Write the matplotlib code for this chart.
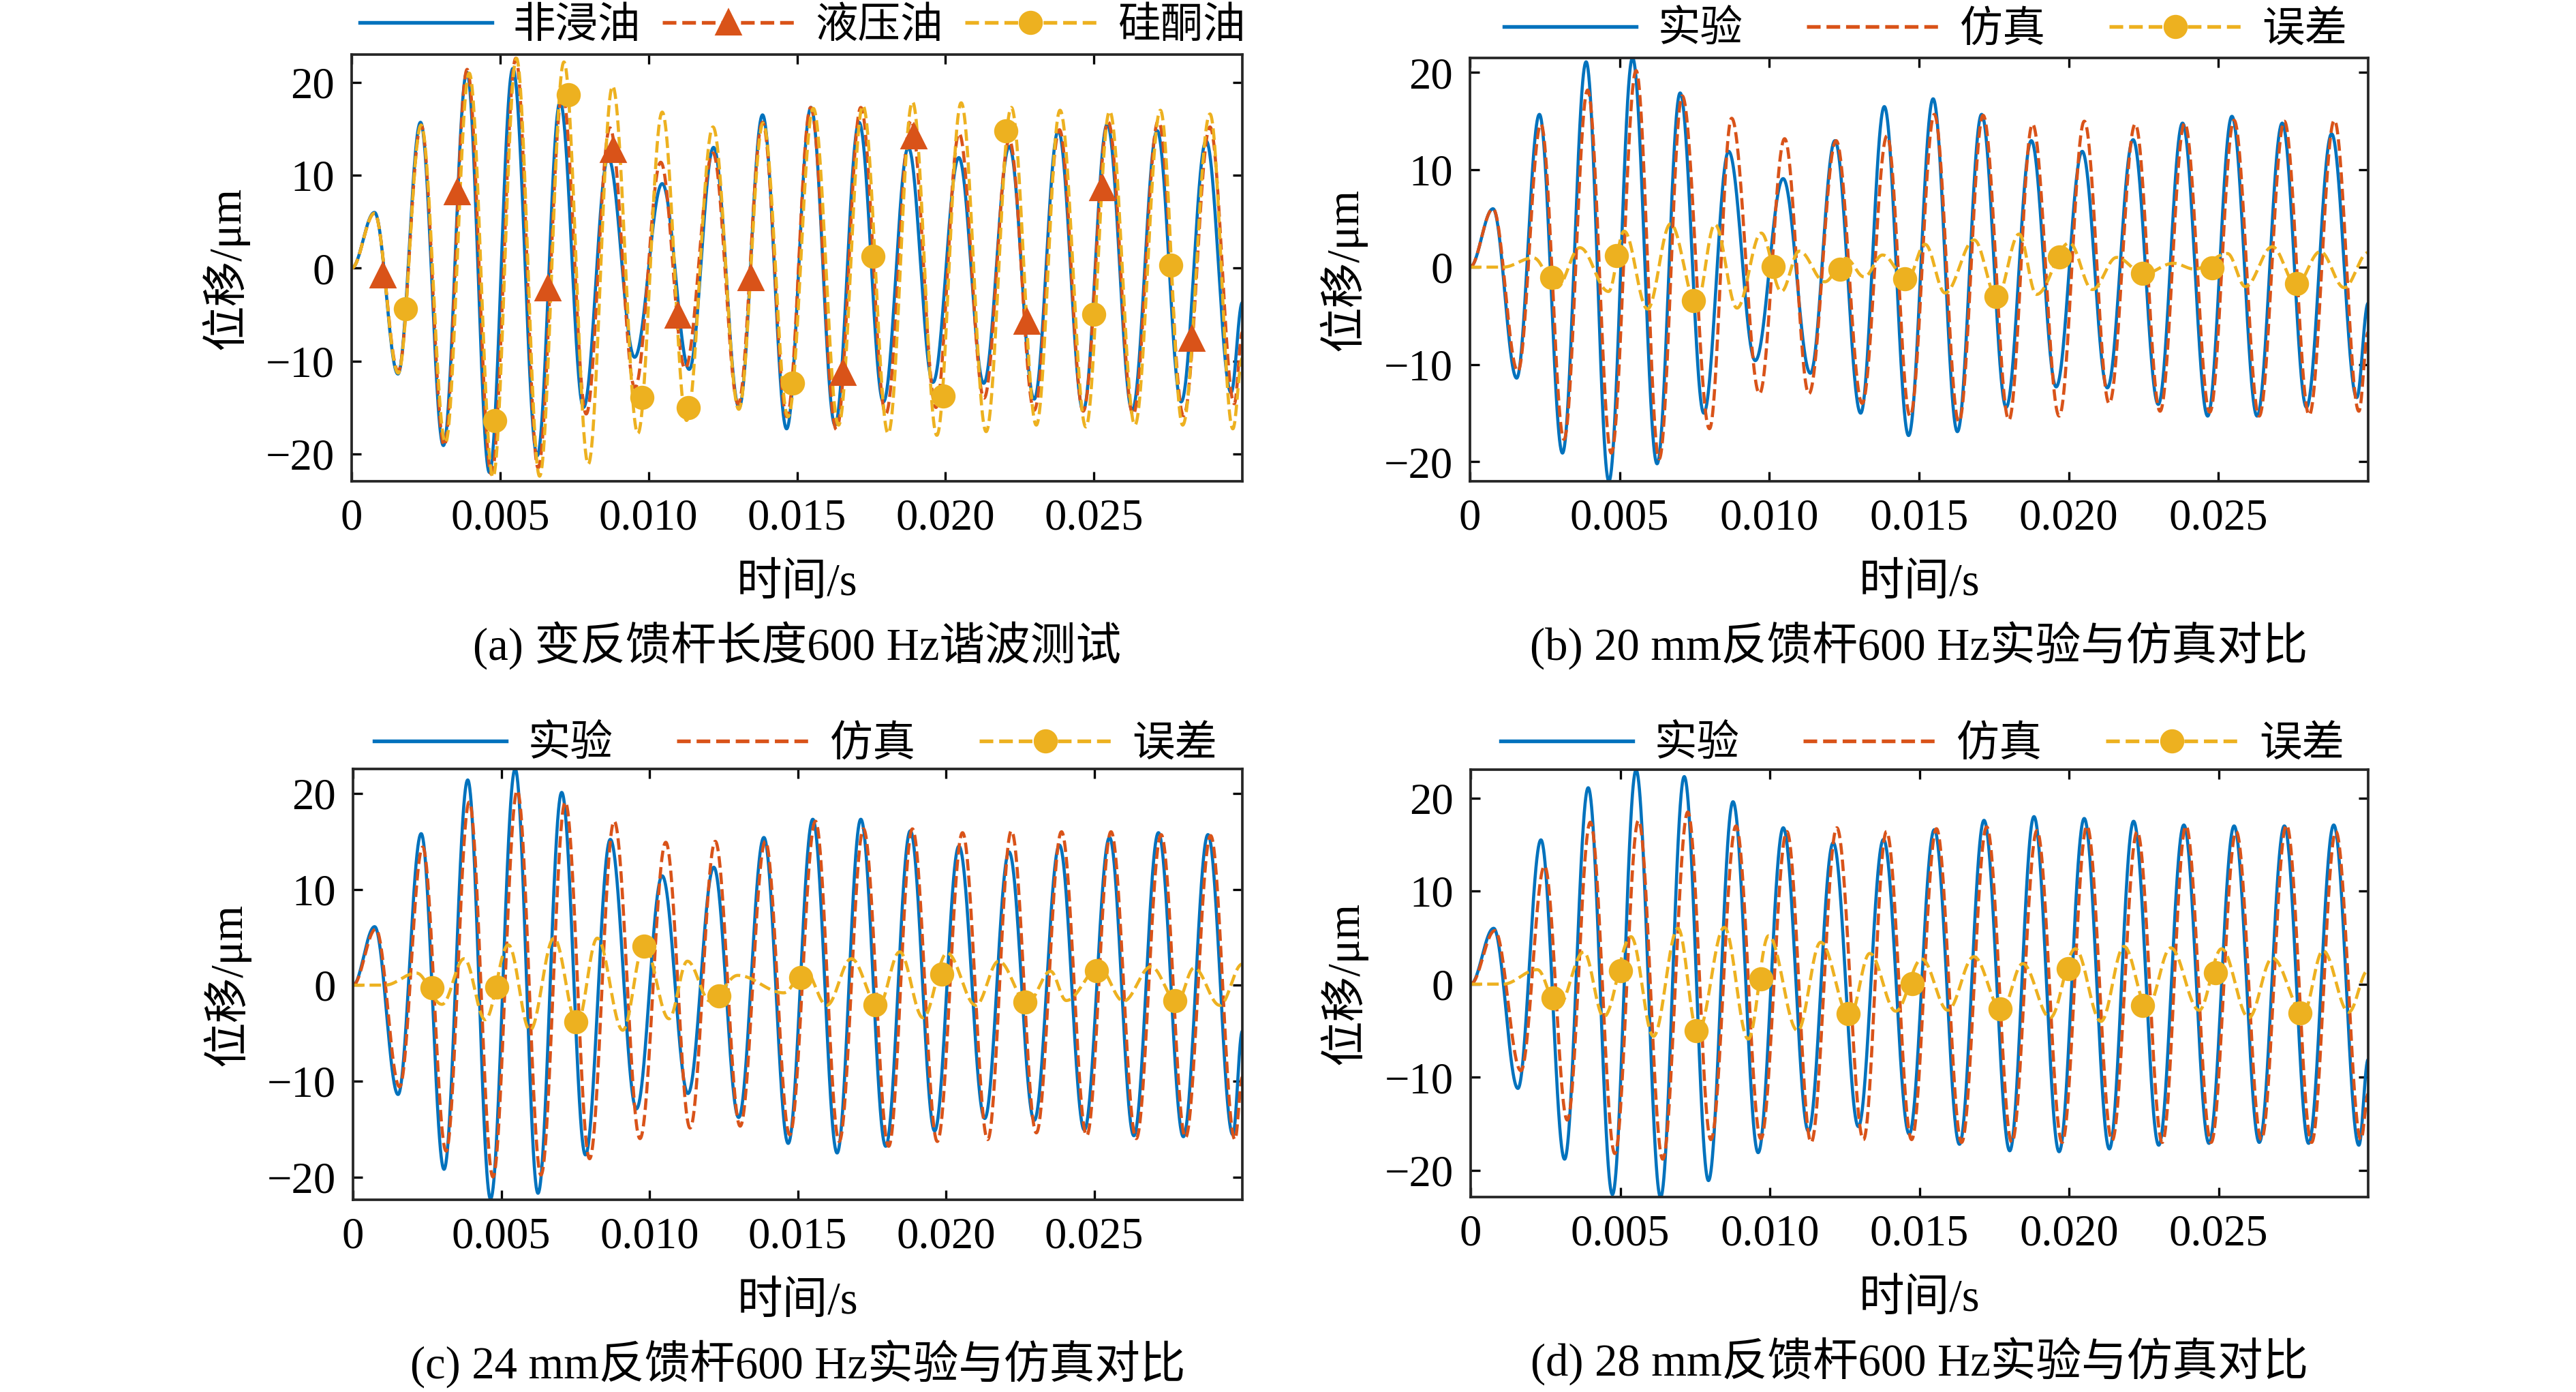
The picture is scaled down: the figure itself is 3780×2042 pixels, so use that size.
import numpy as np
import matplotlib.pyplot as plt
from matplotlib.lines import Line2D

plt.rcParams['font.family'] = ['Liberation Serif', 'Noto Sans CJK SC']
plt.rcParams['axes.unicode_minus'] = True

W, H = 3780, 2042
BLUE, ORANGE, YELLOW = '#0072BD', '#D95319', '#EDB120'

# ---- data: turning points (time in s, displacement in um) ----
# 20 mm experiment (also the 非浸油 curve of panel a)
t_exp20 = [0, 0.00077, 0.00156, 0.00232, 0.00309, 0.00388, 0.00464, 0.00543, 0.00625, 0.00702,
           0.00781, 0.00864, 0.00953, 0.01046, 0.01137, 0.01219, 0.01305, 0.01384, 0.01465, 0.01547,
           0.01628, 0.01709, 0.01791, 0.01875, 0.01958, 0.02045, 0.02129, 0.02215, 0.02299, 0.0238,
           0.02464, 0.02545, 0.02629, 0.02713, 0.02794, 0.02878, 0.02962, 0.03]
v_exp20 = [0, 6.0, -11.4, 15.7, -19.1, 21.1, -22.0, 21.5, -20.2, 17.9,
           -15.0, 11.9, -9.6, 9.1, -10.9, 13.0, -15.0, 16.5, -17.3, 17.3,
           -16.9, 15.7, -14.4, 13.0, -12.3, 11.9, -12.4, 13.1, -14.1, 14.8,
           -15.3, 15.5, -15.3, 14.8, -14.4, 13.7, -13.4, -3.7]

# panel a: 液压油
t_hyd = [0, 0.00077, 0.00157, 0.00234, 0.00312, 0.00389, 0.00471, 0.00553, 0.00628, 0.0071,
         0.0079, 0.0087, 0.00954, 0.01041, 0.01123, 0.01217, 0.01302, 0.01384, 0.01466, 0.01546,
         0.01633, 0.01715, 0.01799, 0.01884, 0.01968, 0.02046, 0.0213, 0.02215, 0.02299, 0.02384,
         0.02464, 0.02548, 0.02632, 0.02717, 0.02802, 0.02891, 0.02973, 0.03]
v_hyd = [0, 5.9, -11.1, 15.4, -19.1, 21.4, -22.2, 22.6, -21.5, 18.7,
         -15.7, 15.1, -12.9, 11.4, -10.8, 12.4, -14.6, 15.7, -16.0, 17.3,
         -17.4, 17.3, -15.7, 15.9, -15.0, 14.5, -14.0, 13.8, -15.3, 14.9,
         -15.4, 15.75, -15.8, 15.9, -15.9, 15.2, -14.6, -6.9]
mk_t_hyd = [0.00106, 0.00355, 0.00662, 0.00882, 0.01099, 0.01345, 0.01655, 0.01894, 0.02275, 0.02529, 0.02831]
mk_v_hyd = [-0.75, 8.2, -2.2, 12.7, -5.1, -1.1, -11.3, 14.2, -5.8, 8.6, -7.6]

# panel a: 硅酮油
t_sil = [0, 0.00077, 0.00157, 0.00234, 0.00316, 0.00396, 0.00476, 0.00555, 0.00633, 0.00715,
         0.00797, 0.00879, 0.00964, 0.01046, 0.01128, 0.01217, 0.01304, 0.01386, 0.0147, 0.01555,
         0.0164, 0.01722, 0.01807, 0.01889, 0.01971, 0.02053, 0.02137, 0.02222, 0.02306, 0.02386,
         0.02473, 0.02553, 0.02638, 0.02724, 0.02799, 0.02891, 0.02968, 0.03]
v_sil = [0, 5.9, -11.3, 15.4, -18.8, 21.0, -22.5, 22.6, -22.4, 22.2,
         -21.1, 19.6, -17.8, 16.8, -16.4, 15.2, -15.2, 15.6, -16.0, 17.2,
         -16.9, 17.5, -17.8, 17.9, -18.0, 17.8, -17.6, 17.3, -16.9, 17.0,
         -17.1, 16.9, -16.9, 17.0, -16.9, 16.6, -17.3, -9.7]
mk_t_sil = [0.00181, 0.00483, 0.0073, 0.00978, 0.01133, 0.01486, 0.01756, 0.01993, 0.02203, 0.025, 0.02758]
mk_v_sil = [-4.4, -16.4, 18.7, -13.9, -15.0, -12.4, 1.25, -13.8, 14.8, -5.0, 0.3]

# panel b: 20 mm simulation and error
t_sim20 = [0, 0.00077, 0.0016, 0.00237, 0.00314, 0.00393, 0.00472, 0.00555, 0.00632, 0.00709,
           0.008, 0.00874, 0.00967, 0.01051, 0.01132, 0.01223, 0.0131, 0.01393, 0.0147, 0.01551,
           0.01633, 0.01714, 0.018, 0.01879, 0.01968, 0.02052, 0.02135, 0.02222, 0.02305, 0.02387,
           0.02471, 0.02552, 0.02636, 0.0272, 0.02803, 0.02887, 0.02969, 0.03]
v_sim20 = [0, 6.0, -10.7, 14.7, -17.7, 18.2, -19.1, 20.2, -19.7, 17.6,
           -16.6, 15.3, -13.0, 13.2, -13.0, 13.0, -14.0, 13.5, -15.3, 15.7,
           -15.9, 15.6, -15.7, 14.7, -15.3, 15.0, -14.0, 14.7, -14.8, 14.8,
           -14.9, 15.1, -15.3, 15.0, -15.2, 15.1, -14.8, -6.7]
t_err20 = [0, 0.0011, 0.00212, 0.0029, 0.00367, 0.00463, 0.00515, 0.00593, 0.0067, 0.00757,
           0.00818, 0.00892, 0.00973, 0.0104, 0.011, 0.01185, 0.01255, 0.01317, 0.01378, 0.0146,
           0.0152, 0.01587, 0.01684, 0.0176, 0.01834, 0.01892, 0.02002, 0.02079, 0.0216, 0.0225,
           0.0235, 0.0242, 0.0253, 0.0259, 0.0268, 0.0276, 0.0284, 0.0292, 0.03]
v_err20 = [0, 0, 0.96, -2.1, 2.0, -2.5, 3.7, -4.3, 4.45, -3.8,
           4.4, -4.2, 3.5, -2.5, 1.65, -1.5, 0.9, -1.0, 1.25, -1.3,
           2.35, -2.65, 2.8, -3.1, 3.4, -2.8, 2.5, -2.3, 1.0, -0.7,
           0.4, -0.2, 1.4, -2.0, 2.1, -1.8, 1.6, -2.1, 1.5]
mk_t_err20 = [0.00274, 0.0049, 0.00747, 0.01012, 0.01236, 0.01452, 0.01757, 0.01969, 0.02247, 0.02479, 0.02761]
mk_v_err20 = [-1.07, 1.19, -3.47, 0.09, -0.21, -1.19, -3.0, 1.03, -0.63, -0.09, -1.68]

# panel c: 24 mm
t_exp24 = [0, 0.00073, 0.00152, 0.0023, 0.00307, 0.00387, 0.00464, 0.00547, 0.00624, 0.00704,
           0.00784, 0.00868, 0.00956, 0.01043, 0.0113, 0.01217, 0.01301, 0.01386, 0.01468, 0.01551,
           0.01633, 0.01713, 0.01797, 0.0188, 0.01962, 0.02044, 0.02131, 0.02213, 0.02298, 0.02383,
           0.02467, 0.02552, 0.02634, 0.02717, 0.02801, 0.02884, 0.02968, 0.03]
v_exp24 = [0, 6.1, -11.4, 15.8, -19.2, 21.4, -22.3, 22.55, -21.7, 20.1,
           -17.7, 15.2, -12.9, 11.4, -11.3, 12.3, -13.8, 15.4, -16.5, 17.3,
           -17.5, 17.3, -16.8, 16.1, -15.2, 14.5, -13.9, 13.9, -14.1, 14.6,
           -15.1, 15.4, -15.7, 15.9, -15.8, 15.7, -15.6, -4.8]
t_sim24 = [0, 0.00077, 0.00157, 0.00235, 0.00314, 0.00392, 0.00472, 0.00554, 0.00634, 0.00716,
           0.00798, 0.00881, 0.00968, 0.01055, 0.01137, 0.01222, 0.01306, 0.01391, 0.01473, 0.0156,
           0.0164, 0.01722, 0.01807, 0.01887, 0.01971, 0.02056, 0.02141, 0.02221, 0.02305, 0.0239,
           0.02475, 0.02557, 0.02642, 0.02726, 0.02808, 0.02893, 0.02975, 0.03]
v_sim24 = [0, 5.85, -10.6, 14.4, -17.3, 19.1, -20.0, 20.3, -19.8, 19.1,
           -18.1, 17.1, -16.0, 14.9, -14.9, 15.0, -14.7, 15.0, -15.6, 17.1,
           -16.3, 16.3, -16.8, 16.3, -16.3, 15.9, -16.1, 16.1, -15.4, 16.0,
           -15.7, 16.0, -16.0, 15.7, -15.9, 15.6, -16.1, -9.6]
t_err24 = [0, 0.00107, 0.00214, 0.003, 0.00375, 0.00446, 0.00524, 0.00597, 0.00678, 0.00756,
           0.00824, 0.0091, 0.00982, 0.01066, 0.01128, 0.01205, 0.01298, 0.01453, 0.01525, 0.01598,
           0.01681, 0.01772, 0.01844, 0.01923, 0.02004, 0.02101, 0.02178, 0.02275, 0.02353, 0.02406,
           0.02517, 0.02599, 0.02692, 0.0278, 0.02837, 0.02924, 0.03]
v_err24 = [0, 0, 1.26, -2.0, 2.76, -3.6, 4.2, -4.7, 4.9, -4.0,
           4.9, -4.7, 4.2, -3.5, 2.5, -1.67, 1.02, -0.8, 1.5, -2.1,
           2.76, -2.2, 3.47, -3.4, 3.35, -2.1, 2.5, -1.86, 1.45, -1.6,
           1.8, -1.67, 1.93, -1.74, 1.8, -2.1, 2.2]
mk_t_err24 = [0.00266, 0.00485, 0.00752, 0.00982, 0.01234, 0.01511, 0.01762, 0.01987, 0.02266, 0.02508, 0.02773]
mk_v_err24 = [-0.27, -0.2, -3.8, 4.06, -1.15, 0.8, -2.05, 1.13, -1.76, 1.5, -1.62]

# panel d: 28 mm
t_exp28 = [0, 0.00077, 0.00158, 0.00235, 0.00314, 0.00393, 0.00474, 0.00553, 0.00635, 0.00714,
           0.00795, 0.00877, 0.00961, 0.01045, 0.01129, 0.01212, 0.01296, 0.0138, 0.01466, 0.0155,
           0.01634, 0.01716, 0.01802, 0.01883, 0.01967, 0.02051, 0.02135, 0.02216, 0.023, 0.02384,
           0.02468, 0.02552, 0.02636, 0.0272, 0.02801, 0.02885, 0.02969, 0.03]
v_exp28 = [0, 6.0, -11.2, 15.5, -18.8, 21.1, -22.6, 23.0, -22.9, 22.3,
           -21.1, 19.6, -18.1, 16.8, -15.8, 15.2, -15.3, 15.55, -16.1, 16.6,
           -17.2, 17.6, -17.9, 18.0, -18.0, 17.8, -17.7, 17.5, -17.3, 17.1,
           -17.1, 17.0, -17.0, 17.0, -17.1, 17.1, -17.3, -8.1]
t_sim28 = [0, 0.00081, 0.00168, 0.00247, 0.00323, 0.004, 0.00482, 0.00561, 0.00642, 0.00726,
           0.00803, 0.00887, 0.0097, 0.01057, 0.01138, 0.01224, 0.01313, 0.0139, 0.01474, 0.01557,
           0.01641, 0.01725, 0.01809, 0.01893, 0.01977, 0.0206, 0.02144, 0.02228, 0.02312, 0.02391,
           0.02475, 0.02559, 0.02643, 0.02727, 0.02811, 0.02892, 0.02976, 0.03]
v_sim28 = [0, 5.75, -9.3, 12.7, -14.6, 17.4, -18.2, 17.6, -18.8, 18.5,
           -16.7, 17.0, -16.6, 16.4, -17.0, 16.8, -16.7, 16.4, -16.7, 16.7,
           -17.0, 16.9, -17.0, 16.5, -17.0, 17.0, -16.8, 16.4, -17.0, 17.0,
           -17.0, 16.4, -16.7, 17.1, -17.0, 16.4, -16.7, -11.8]
t_err28 = [0, 0.00108, 0.00223, 0.00291, 0.00378, 0.00445, 0.00536, 0.00611, 0.00693, 0.00759,
           0.00848, 0.00928, 0.00996, 0.01093, 0.0117, 0.01267, 0.01334, 0.01421, 0.01508, 0.01595,
           0.01682, 0.01775, 0.01845, 0.01937, 0.02021, 0.02107, 0.02184, 0.02262, 0.0234, 0.02435,
           0.0251, 0.02601, 0.0268, 0.02783, 0.02849, 0.02935, 0.03]
v_err28 = [0, 0, 1.56, -2.5, 3.45, -3.5, 5.1, -5.6, 6.0, -5.2,
           6.1, -5.9, 5.2, -5.0, 4.5, -3.5, 3.3, -2.9, 2.7, -2.8,
           2.95, -2.8, 2.2, -3.6, 3.8, -4.0, 4.05, -2.5, 3.9, -2.8,
           3.8, -3.6, 2.8, -3.1, 3.6, -3.0, 1.5]
mk_t_err28 = [0.00276, 0.005, 0.00755, 0.0097, 0.01263, 0.01475, 0.01769, 0.01997, 0.02246, 0.02489, 0.02773]
mk_v_err28 = [-1.48, 1.42, -5.0, 0.6, -3.2, 0.06, -2.67, 1.67, -2.28, 1.26, -3.06]

xticks = [0, 0.005, 0.010, 0.015, 0.020, 0.025]
xtick_labels = ['0', '0.005', '0.010', '0.015', '0.020', '0.025']
yticks = [-20, -10, 0, 10, 20]

captions = ['(a) 变反馈杆长度600 Hz谐波测试',
            '(b) 20 mm反馈杆600 Hz实验与仿真对比',
            '(c) 24 mm反馈杆600 Hz实验与仿真对比',
            '(d) 28 mm反馈杆600 Hz实验与仿真对比']
legend_a = ['非浸油', '液压油', '硅酮油']
legend_bcd = ['实验', '仿真', '误差']


def wave(tk, vk, n=4000):
    # smooth half-cosine joins between consecutive turning points
    tk = np.asarray(tk, float)
    vk = np.asarray(vk, float)
    t = np.linspace(tk[0], tk[-1], n)
    i = np.clip(np.searchsorted(tk, t, side='right') - 1, 0, len(tk) - 2)
    s = (t - tk[i]) / (tk[i + 1] - tk[i])
    v = vk[i] + (vk[i + 1] - vk[i]) * (1 - np.cos(np.pi * s)) / 2
    return t, v


fig = plt.figure(figsize=(W / 300, H / 300), dpi=300)


def make_axes(px_left, px_right, px_top, px_bottom):
    return fig.add_axes([px_left / W, 1 - px_bottom / H,
                         (px_right - px_left) / W, (px_bottom - px_top) / H])


def style(ax, ylim, px_h):
    ax.set_xlim(0, 0.03)
    ax.set_ylim(*ylim)
    ax.set_xticks(xticks, xtick_labels)
    ax.set_yticks(yticks)
    ax.tick_params(direction='in', top=True, right=True, length=3.4, width=0.8,
                   labelsize=15.5, pad=6)
    for sp in ax.spines.values():
        sp.set_linewidth(0.9)
        sp.set_color('#262626')
    ax.set_ylabel('位移/μm', fontsize=16)
    ax.yaxis.set_label_coords(-0.115, 0.5)
    ax.set_xlabel('时间/s', fontsize=16)
    ax.xaxis.set_label_coords(0.5, -151 / px_h)
    ax.xaxis.label.set_va('center')


boxes = [(516, 1823, 80, 706), (2157, 3475, 85, 706),
         (518, 1823, 1128, 1760), (2158, 3475, 1129, 1756)]
ylims = [(-22.95, 23.0), (-22.0, 21.5), (-22.38, 22.55), (-22.87, 23.05)]
leg_pos = [(1178, 40), (2826, 46), (1168, 1094), (2821, 1094)]

axs = [make_axes(*b) for b in boxes]

# panel a
ax = axs[0]
ax.plot(*wave(t_exp20, v_exp20), color=BLUE, lw=1.1)
ax.plot(*wave(t_hyd, v_hyd), color=ORANGE, lw=1.1, ls='--')
ax.plot(*wave(t_sil, v_sil), color=YELLOW, lw=1.1, ls='--')
ax.plot(mk_t_hyd, mk_v_hyd, ls='none', marker='^', ms=8, color=ORANGE)
ax.plot(mk_t_sil, mk_v_sil, ls='none', marker='o', ms=7.5, color=YELLOW)
handles_a = [Line2D([], [], color=BLUE, lw=1.3),
             Line2D([], [], color=ORANGE, lw=1.3, ls='--', marker='^', ms=8),
             Line2D([], [], color=YELLOW, lw=1.3, ls='--', marker='o', ms=7.5)]

# panels b, c, d
sets = [(t_exp20, v_exp20, t_sim20, v_sim20, t_err20, v_err20, mk_t_err20, mk_v_err20),
        (t_exp24, v_exp24, t_sim24, v_sim24, t_err24, v_err24, mk_t_err24, mk_v_err24),
        (t_exp28, v_exp28, t_sim28, v_sim28, t_err28, v_err28, mk_t_err28, mk_v_err28)]
for ax, (te, ve, ts, vs, tr, vr, mt, mv) in zip(axs[1:], sets):
    ax.plot(*wave(te, ve), color=BLUE, lw=1.1)
    ax.plot(*wave(ts, vs), color=ORANGE, lw=1.1, ls='--')
    ax.plot(*wave(tr, vr), color=YELLOW, lw=1.1, ls='--')
    ax.plot(mt, mv, ls='none', marker='o', ms=7.5, color=YELLOW)
handles_bcd = [Line2D([], [], color=BLUE, lw=1.3),
               Line2D([], [], color=ORANGE, lw=1.3, ls='--'),
               Line2D([], [], color=YELLOW, lw=1.3, ls='--', marker='o', ms=7.5)]

for k, ax in enumerate(axs):
    b = boxes[k]
    style(ax, ylims[k], b[3] - b[2])
    if k == 0:
        h, lab, cs = handles_a, legend_a, 0.5
    else:
        h, lab, cs = handles_bcd, legend_bcd, 1.5
    lx, ly = leg_pos[k]
    ax.legend(h, lab, loc='center', bbox_to_anchor=(lx / W, 1 - ly / H),
              bbox_transform=fig.transFigure, ncol=3, frameon=False, fontsize=15,
              handlelength=3.1, handletextpad=0.5, columnspacing=cs,
              borderpad=0, borderaxespad=0, numpoints=1)
    cx = (b[0] + b[1]) / 2
    fig.text(cx / W, 1 - (b[3] + 241) / H, captions[k], ha='center', va='center', fontsize=16)

fig.savefig('out.png', dpi=300)
